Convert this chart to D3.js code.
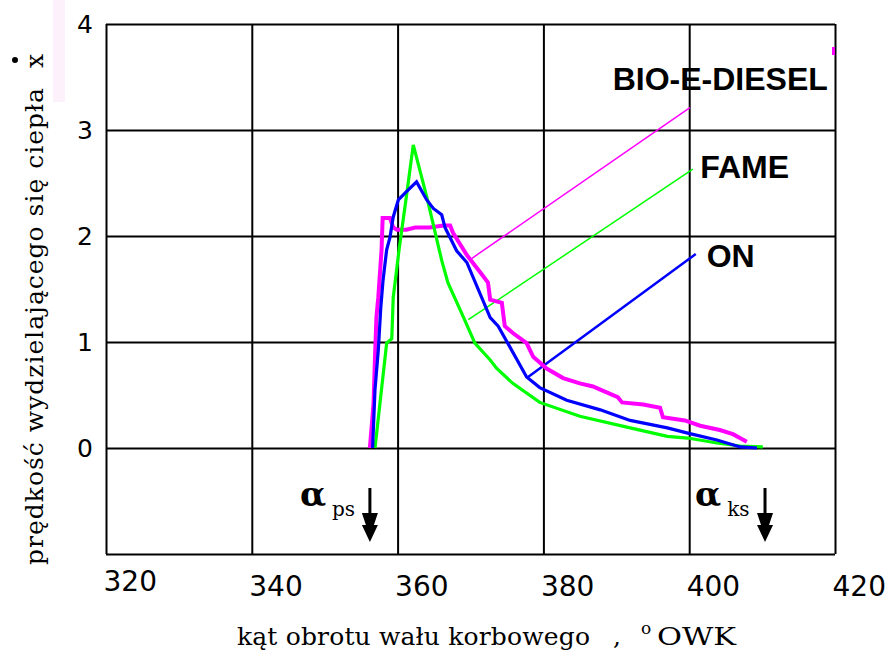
<!DOCTYPE html>
<html lang="pl">
<head>
  <meta charset="UTF-8">
  <title>prędkość wydzielającego się ciepła</title>
  <style>
    body { margin: 0; background: #fff; overflow: hidden; }
    svg { display: block; }
    .tick text { font-family: 'DejaVu Sans', sans-serif; fill: #000; }
    .title { font-family: 'DejaVu Serif', serif; font-size: 25px; fill: #000; }
    .legend { font-family: 'Liberation Sans', Arial, sans-serif; font-weight: bold; font-size: 32px; fill: #000; }
    .alpha { font-family: 'DejaVu Serif', serif; fill: #000; }
  </style>
</head>
<body>
  <svg width="885" height="657"></svg>

  <script src="https://d3js.org/d3.v7.min.js"></script>
  <script>
    // crank angle ticks and heat-release ticks
    var xTicks = [320, 340, 360, 380, 400, 420];
    var yTicks = [-1, 0, 1, 2, 3, 4];
    var yLabels = [0, 1, 2, 3, 4];

    // BIO-E-DIESEL
    var bioAngle = [356.2, 356.7, 356.9, 357.1, 357.35, 357.8, 357.95, 358.95, 359.4, 359.9, 361.2, 362.4, 364.4, 366.3, 367.2,
                    367.6, 368.6, 369.5, 371.3, 372.4, 372.7, 374.3, 374.7, 375.9, 377.7, 378.6, 380.45, 382.7, 385.0, 386.8,
                    387.8, 390.2, 390.8, 393.7, 396.0, 396.4, 399.4, 401.5, 404.2, 406.0, 407.9];
    var bioRate  = [0, 0.42, 0.86, 1.24, 1.42, 1.87, 2.17, 2.17, 2.08, 2.06, 2.06, 2.08, 2.08, 2.10, 2.10,
                    2.03, 1.92, 1.82, 1.66, 1.56, 1.40, 1.37, 1.15, 1.08, 0.99, 0.86, 0.75, 0.66, 0.61, 0.58,
                    0.55, 0.48, 0.43, 0.41, 0.38, 0.29, 0.26, 0.21, 0.17, 0.13, 0.06];

    // FAME
    var fameAngle = [356.9, 358.5, 359.2, 359.4, 360.2, 361.2, 362.15, 364.0, 366.05, 366.9, 369.0, 370.6, 372.7, 373.6,
                     375.8, 379.5, 385.0, 391.9, 397.0, 399.8, 403.8, 407.0, 410.1];
    var fameRate  = [0, 0.99, 1.03, 1.42, 1.87, 2.37, 2.86, 2.37, 1.77, 1.56, 1.24, 0.99, 0.83, 0.75,
                     0.61, 0.43, 0.30, 0.19, 0.11, 0.094, 0.047, 0.019, 0.01];

    // ON
    var onAngle = [356.57, 356.9, 357.35, 357.7, 358.0, 358.5, 358.96, 359.4, 360.1, 361.25, 362.6, 364.0, 364.9, 366.05,
                   366.5, 368.1, 369.5, 372.7, 373.8, 377.7, 379.5, 383.2, 387.8, 391.9, 397.0, 399.8, 403.8, 407.0, 409.3];
    var onRate  = [0, 0.55, 0.92, 1.33, 1.58, 1.87, 1.99, 2.18, 2.34, 2.42, 2.51, 2.34, 2.26, 2.20,
                   2.08, 1.86, 1.75, 1.23, 1.15, 0.67, 0.57, 0.45, 0.36, 0.26, 0.19, 0.14, 0.075, 0.01, 0];

    var seriesNames = ['BIO-E-DIESEL', 'FAME', 'ON'];
    var seriesColors = ['#ff00ff', '#00ff00', '#0000ff'];

    // start / end of combustion markers
    var markerNames = ['ps', 'ks'];
    var markerAngle = [356.2, 410.4];

    var svg = d3.select('svg');

    var x = d3.scaleLinear().domain([320, 420]).range([106, 835]);
    var y = d3.scaleLinear().domain([-1, 4]).range([554, 24]);

    // faint artefacts of the original scan
    svg.append('rect').attr('x', 53).attr('y', 0).attr('width', 12).attr('height', 102).attr('fill', '#fdf1fb');

    // grid, drawn with the axes
    var xAxis = d3.axisBottom(x).tickValues(xTicks).tickSize(-(y(-1) - y(4)));
    var gx = svg.append('g').attr('transform', 'translate(0,' + y(-1) + ')').call(xAxis);
    gx.select('.domain').remove();
    gx.selectAll('.tick line').attr('stroke', '#000').attr('stroke-width', 2);
    gx.selectAll('.tick text')
      .attr('text-anchor', 'start')
      .attr('dx', -3)
      .attr('dy', 0)
      .attr('y', function(d) { return d === 320 ? 37 : 42; })
      .style('font-size', '28px');

    var yAxis = d3.axisLeft(y).tickValues(yTicks).tickSize(-(x(420) - x(320)))
      .tickFormat(function(d) { return yLabels.indexOf(d) >= 0 ? d : ''; });
    var gy = svg.append('g').attr('transform', 'translate(' + x(320) + ',0)').call(yAxis);
    gy.select('.domain').remove();
    gy.selectAll('.tick line').attr('stroke', '#000').attr('stroke-width', 2);
    gy.selectAll('.tick text')
      .attr('text-anchor', 'middle')
      .attr('x', -21)
      .style('font-size', '25px');

    // leader lines from the curves to the labels
    var leaders = [
      { x1: 370.2, y1: 1.79, x2: 400.1, y2: 3.21, w: 1.5 },
      { x1: 369.7, y1: 1.21, x2: 400.5, y2: 2.63, w: 1.5 },
      { x1: 377.9, y1: 0.67, x2: 400.9, y2: 1.83, w: 2.5 }
    ];
    svg.selectAll('.leader')
      .data(leaders)
      .enter()
        .append('line')
        .attr('class', 'leader')
        .attr('x1', function(d) { return x(d.x1); })
        .attr('y1', function(d) { return y(d.y1); })
        .attr('x2', function(d) { return x(d.x2); })
        .attr('y2', function(d) { return y(d.y2); })
        .attr('stroke', function(d, i) { return seriesColors[i]; })
        .attr('stroke-width', function(d) { return d.w; });

    // curves
    var series = [
      { angle: bioAngle, rate: bioRate, color: seriesColors[0], w: 4 },
      { angle: fameAngle, rate: fameRate, color: seriesColors[1], w: 3.2 },
      { angle: onAngle, rate: onRate, color: seriesColors[2], w: 3.2 }
    ];
    var line = d3.line()
      .x(function(d) { return x(d[0]); })
      .y(function(d) { return y(d[1]); });

    svg.selectAll('.curve')
      .data(series)
      .enter()
        .append('path')
        .attr('class', 'curve')
        .attr('fill', 'none')
        .attr('stroke', function(d) { return d.color; })
        .attr('stroke-width', function(d) { return d.w; })
        .attr('stroke-linejoin', 'miter')
        .attr('d', function(d) { return line(d3.zip(d.angle, d.rate)); });

    // legend labels
    var labelPos = [[389.5, 3.377], [401.5, 2.547], [402.4, 1.708]];
    svg.selectAll('.legend')
      .data(seriesNames)
      .enter()
        .append('text')
        .attr('class', 'legend')
        .attr('x', function(d, i) { return x(labelPos[i][0]); })
        .attr('y', function(d, i) { return y(labelPos[i][1]); })
        .text(function(d) { return d; });

    svg.append('rect').attr('x', 832).attr('y', 47).attr('width', 3).attr('height', 8).attr('fill', '#ff00ff');

    // alpha_ps / alpha_ks with down arrows
    var markers = svg.selectAll('.marker')
      .data(markerNames)
      .enter()
        .append('g')
        .attr('class', 'marker')
        .attr('transform', function(d, i) { return 'translate(' + x(markerAngle[i]) + ',0)'; });

    var a = markers.append('text').attr('class', 'alpha').attr('x', -70).attr('y', 506);
    a.append('tspan').style('font-size', '34px').style('font-weight', 'bold').text('α');
    a.append('tspan').style('font-size', '20px').attr('dx', 6).attr('dy', 10).text(function(d) { return d; });

    markers.append('line')
      .attr('x1', 0).attr('x2', 0).attr('y1', 488).attr('y2', 520)
      .attr('stroke', '#000').attr('stroke-width', 3);
    markers.append('path')
      .attr('d', 'M-8,513 L8,513 L4,525 L8,525 L0,542 L-8,525 L-4,525 Z')
      .attr('fill', '#000');

    // axis titles
    svg.append('text').attr('class', 'title').attr('x', 237).attr('y', 645)
      .attr('textLength', 353).attr('lengthAdjust', 'spacing')
      .text('kąt obrotu wału korbowego');
    svg.append('text').attr('class', 'title').attr('x', 613).attr('y', 645).text(',');
    svg.append('text').attr('class', 'title').attr('x', 641).attr('y', 634).style('font-size', '17px').text('o');
    svg.append('text').attr('class', 'title').attr('x', 657).attr('y', 645)
      .attr('textLength', 79).attr('lengthAdjust', 'spacingAndGlyphs')
      .text('OWK');

    svg.append('text')
      .attr('class', 'title')
      .attr('transform', 'translate(43,565) rotate(-90)')
      .attr('textLength', 477).attr('lengthAdjust', 'spacing')
      .text('prędkość wydzielającego się ciepła');
    svg.append('text')
      .attr('class', 'title')
      .attr('transform', 'translate(43,68) rotate(-90)')
      .text('x');
    svg.append('circle').attr('cx', 15).attr('cy', 60).attr('r', 3).attr('fill', '#000');
  </script>
</body>
</html>
